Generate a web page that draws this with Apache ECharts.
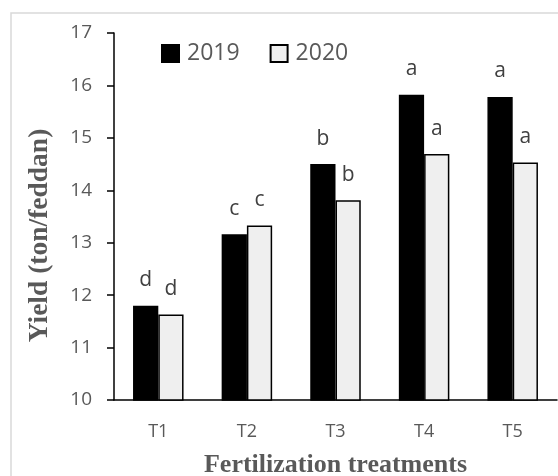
<!DOCTYPE html>
<html>
<head>
<meta charset="utf-8">
<script src="https://cdn.jsdelivr.net/npm/echarts@6/dist/echarts.min.js"></script>
<style>html,body{margin:0;padding:0;background:#fff}#c{width:558px;height:476px}</style>
</head>
<body>
<div id="c"></div>
<script>
var categories = ['T1', 'T2', 'T3', 'T4', 'T5'];
var yield2019 = [11.80, 13.16, 14.50, 15.82, 15.78];
var yield2020 = [11.63, 13.33, 13.81, 14.69, 14.53];
var letters2019 = ['d', 'c', 'b', 'a', 'a'];
var letters2020 = ['d', 'c', 'b', 'a', 'a'];
var seriesNames = ['2019', '2020'];

var chart = echarts.init(document.getElementById('c'));
var sans = '"Open Sans", "Liberation Sans", Arial, sans-serif';
var serif = '"Liberation Serif", "Times New Roman", serif';
function mk(name, vals, letters, color) {
  return {
    name: name, type: 'bar', barGap: '0%', barCategoryGap: '43%',
    data: vals,
    itemStyle: { color: color, borderColor: '#000', borderWidth: 1.5 },
    label: {
      show: true, position: 'top', distance: 15,
      formatter: function (p) { return letters[p.dataIndex]; },
      fontFamily: sans, fontSize: 21, color: '#404040'
    }
  };
}
chart.setOption({
  animation: false,
  backgroundColor: '#fff',
  graphic: [{ type: 'rect', shape: { x: 11, y: 13, width: 700, height: 600 },
    style: { fill: 'none', stroke: '#d9d9d9', lineWidth: 1.5 }, z: -1 }],
  legend: {
    left: 156, top: 37, itemWidth: 17, itemHeight: 17, itemGap: 30,
    icon: 'rect',
    textStyle: { fontFamily: sans, fontSize: 23, color: '#595959', padding: [0, 0, 0, 3] },
    data: seriesNames
  },
  grid: { left: 114, right: 1, top: 33, bottom: 76, containLabel: false, outerBoundsMode: 'none' },
  xAxis: {
    type: 'category', data: categories,
    name: 'Fertilization treatments', nameLocation: 'middle', nameGap: 52,
    nameTextStyle: { fontFamily: serif, fontWeight: 'bold', fontSize: 26, color: '#595959' },
    axisLine: { lineStyle: { color: '#000', width: 1.5 } },
    axisTick: { show: false },
    axisLabel: { fontFamily: sans, fontSize: 18, color: '#595959', margin: 23 }
  },
  yAxis: {
    type: 'value', min: 10, max: 17, interval: 1,
    name: 'Yield (ton/feddan)', nameLocation: 'middle', nameGap: 60,
    nameTextStyle: { fontFamily: serif, fontWeight: 'bold', fontSize: 27.5, color: '#595959', padding: [0, 38, 0, 0] },
    axisLine: { show: true, lineStyle: { color: '#000', width: 1.5 } },
    axisTick: { show: true, length: 7, lineStyle: { color: '#000', width: 1.5 } },
    splitLine: { show: false },
    axisLabel: { fontFamily: sans, fontSize: 19, color: '#595959', margin: 22 }
  },
  series: [
    mk(seriesNames[0], yield2019, letters2019, '#000000'),
    mk(seriesNames[1], yield2020, letters2020, '#efefef')
  ]
});
</script>
</body>
</html>
